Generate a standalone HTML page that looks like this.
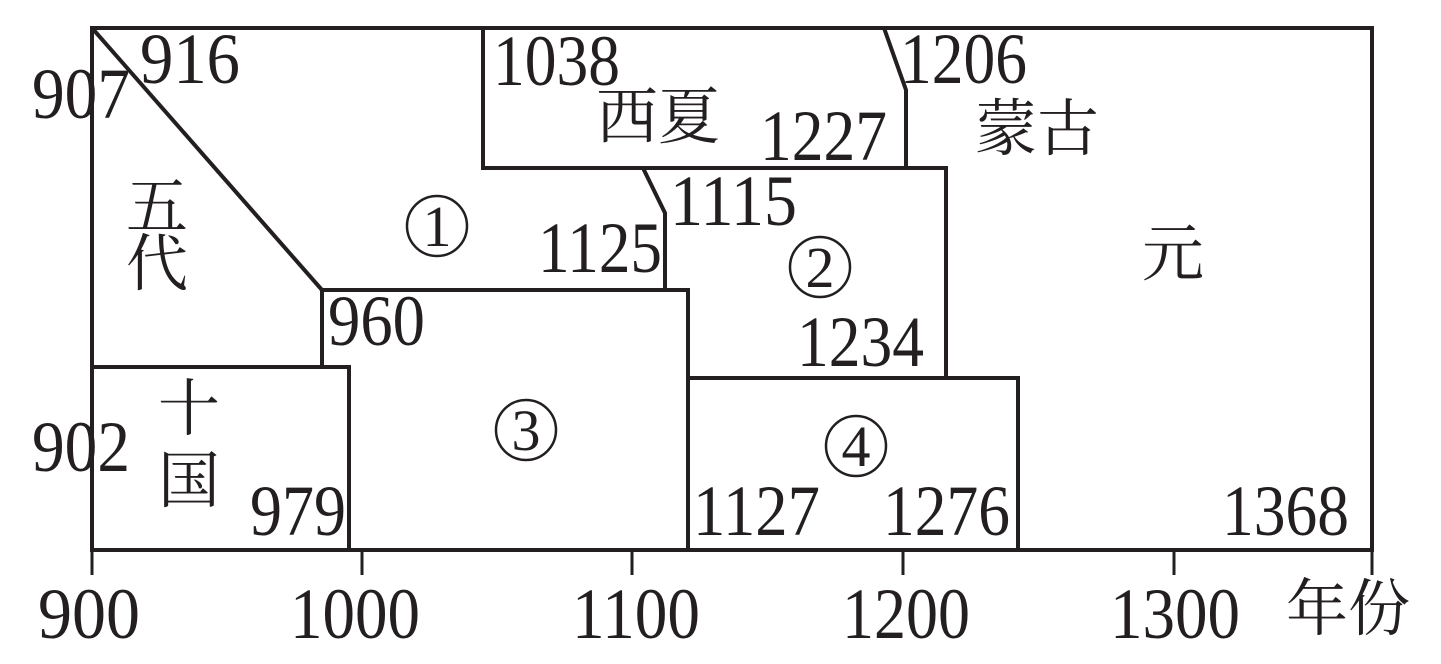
<!DOCTYPE html>
<html><head><meta charset="utf-8"><style>html,body{margin:0;padding:0;background:#fff}svg{display:block}</style></head>
<body>
<svg width="1441" height="664" viewBox="0 0 1441 664" xmlns="http://www.w3.org/2000/svg">
<g fill="none" stroke="#231f20" stroke-width="4">
<rect x="92" y="28" width="1280" height="522"/>
<line x1="92" y1="28" x2="322" y2="290"/>
<polyline points="322,367 322,290 688,290 688,550"/>
<polyline points="92,367 349,367 349,550"/>
<polyline points="483,28 483,168 946,168 946,378"/>
<polyline points="884,28 906,90 906,168"/>
<polyline points="643,168 665,213 665,290"/>
<polyline points="688,378 1018,378 1018,550"/>
<g stroke-width="3">
<line x1="92" y1="550" x2="92" y2="575"/><line x1="362" y1="550" x2="362" y2="575"/>
<line x1="632" y1="550" x2="632" y2="575"/><line x1="903" y1="550" x2="903" y2="575"/>
<line x1="1174" y1="550" x2="1174" y2="575"/><line x1="1372" y1="550" x2="1372" y2="575"/>
</g>
<g stroke-width="2.5">
<circle cx="437" cy="226" r="30"/><circle cx="820" cy="267" r="30"/>
<circle cx="526" cy="430" r="30"/><circle cx="856" cy="446" r="30"/>
</g>
</g>
<g font-family="Liberation Serif, serif" font-size="72" fill="#231f20">
<text x="140" y="83" textLength="100" lengthAdjust="spacingAndGlyphs">916</text>
<text x="32" y="118" textLength="98" lengthAdjust="spacingAndGlyphs">907</text>
<text x="493" y="85" textLength="127" lengthAdjust="spacingAndGlyphs">1038</text>
<text x="760" y="160" textLength="127" lengthAdjust="spacingAndGlyphs">1227</text>
<text x="900" y="83" textLength="127" lengthAdjust="spacingAndGlyphs">1206</text>
<text x="670" y="225" textLength="127" lengthAdjust="spacingAndGlyphs">1115</text>
<text x="538" y="272" textLength="124" lengthAdjust="spacingAndGlyphs">1125</text>
<text x="328" y="345" textLength="97" lengthAdjust="spacingAndGlyphs">960</text>
<text x="797" y="366" textLength="127" lengthAdjust="spacingAndGlyphs">1234</text>
<text x="32" y="471" textLength="98" lengthAdjust="spacingAndGlyphs">902</text>
<text x="250" y="535" textLength="96" lengthAdjust="spacingAndGlyphs">979</text>
<text x="693" y="535" textLength="127" lengthAdjust="spacingAndGlyphs">1127</text>
<text x="883" y="535" textLength="127" lengthAdjust="spacingAndGlyphs">1276</text>
<text x="1222" y="535" textLength="127" lengthAdjust="spacingAndGlyphs">1368</text>
<text x="38" y="638" textLength="102" lengthAdjust="spacingAndGlyphs">900</text>
<text x="290" y="638" textLength="130" lengthAdjust="spacingAndGlyphs">1000</text>
<text x="572" y="638" textLength="128" lengthAdjust="spacingAndGlyphs">1100</text>
<text x="842" y="638" textLength="128" lengthAdjust="spacingAndGlyphs">1200</text>
<text x="1110" y="638" textLength="130" lengthAdjust="spacingAndGlyphs">1300</text>
<g font-size="58" text-anchor="middle">
<text x="437" y="246">1</text><text x="820" y="287">2</text>
<text x="526" y="450">3</text><text x="856" y="466">4</text>
</g>
</g>
<g font-family="Noto Serif CJK SC, Noto Sans CJK SC, serif" font-size="62" fill="#231f20">
<text x="596" y="138">西夏</text>
<text x="975" y="150">蒙古</text>
<text x="126" y="228">五</text>
<text x="126" y="285">代</text>
<text x="1142" y="275">元</text>
<text x="158" y="430">十</text>
<text x="158" y="502">国</text>
<text x="1286" y="630">年份</text>
</g>
</svg>
</body></html>
